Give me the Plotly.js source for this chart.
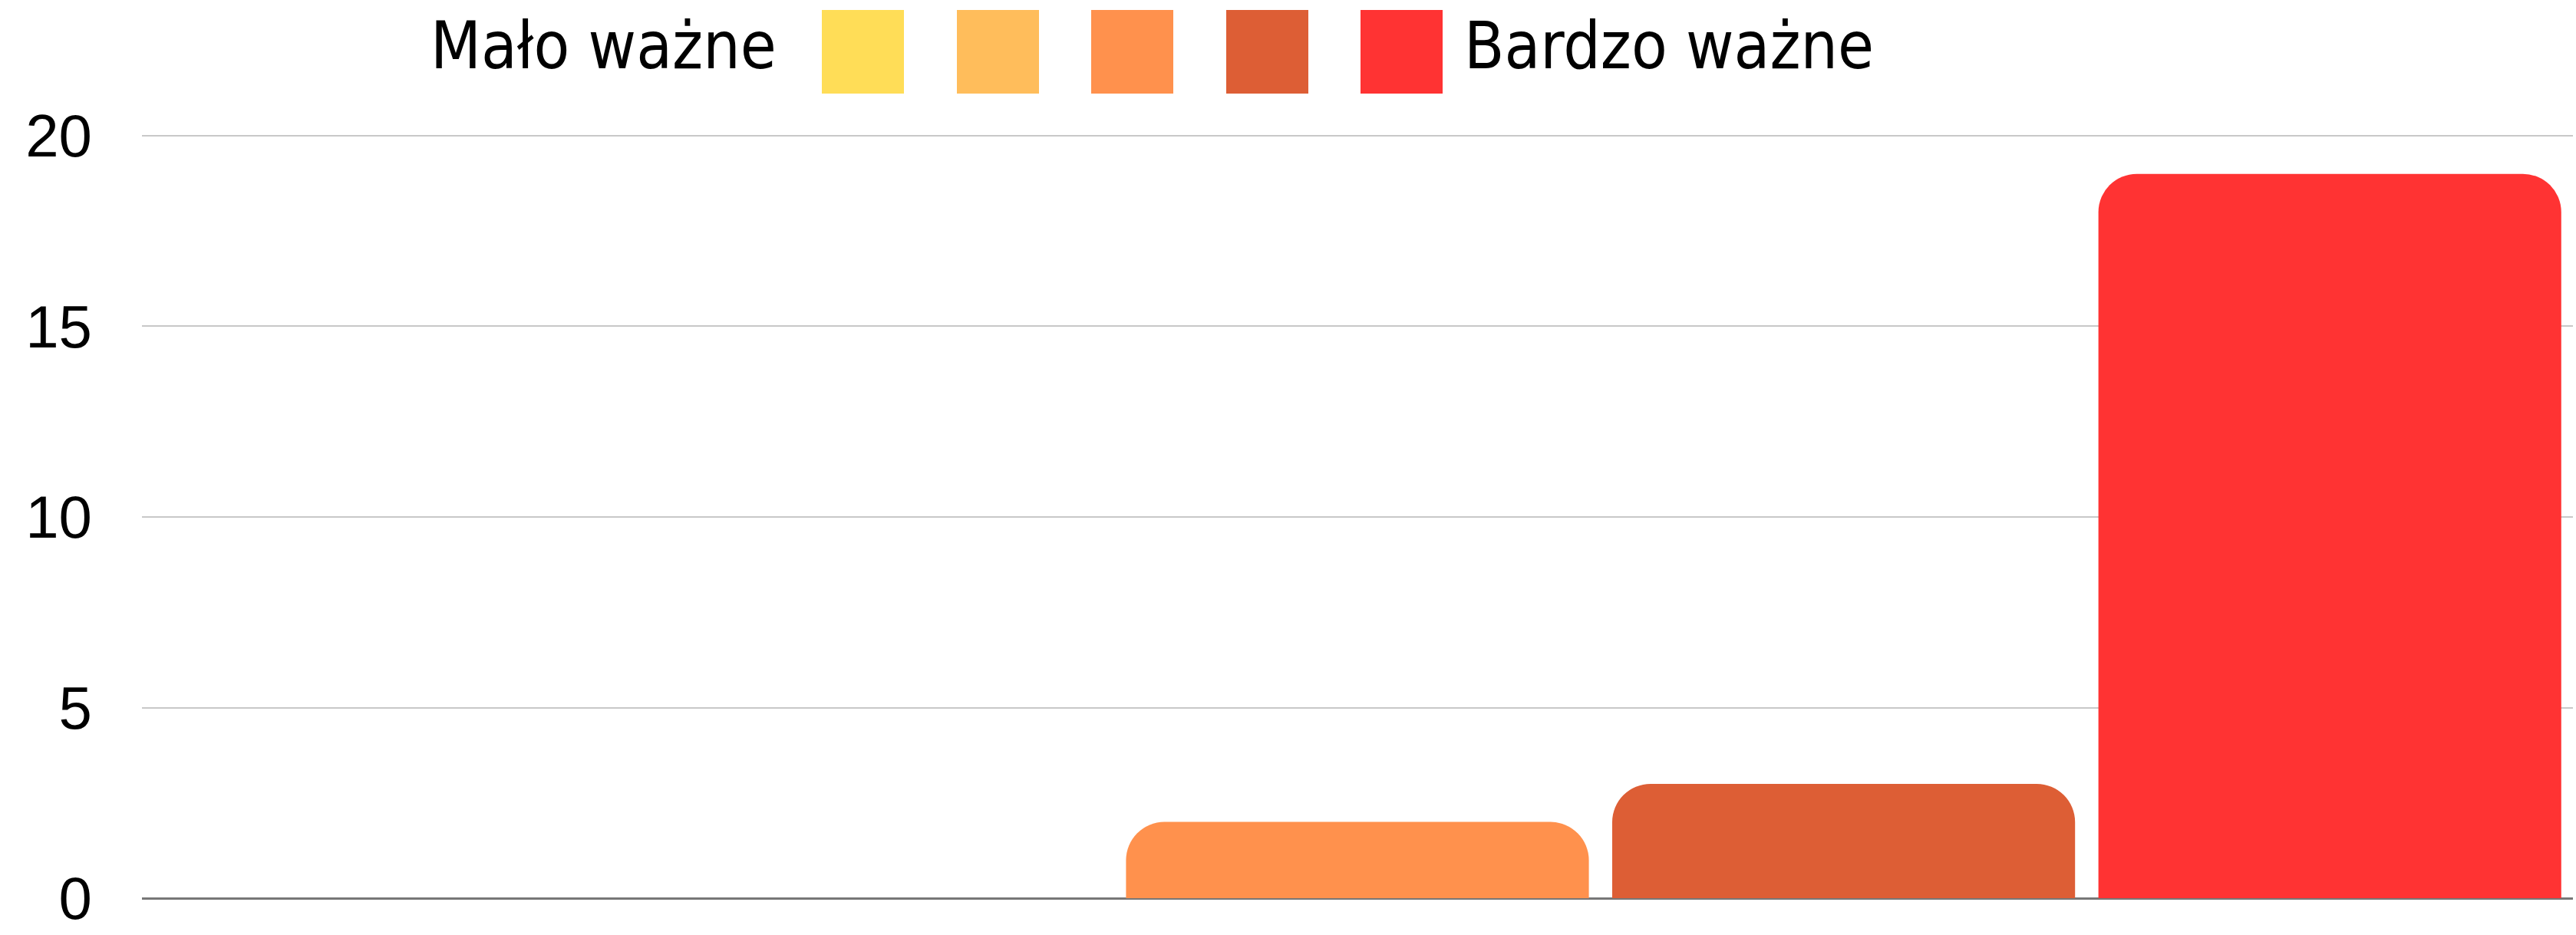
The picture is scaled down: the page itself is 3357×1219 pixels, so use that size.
<!DOCTYPE html>
<html>
<head>
<meta charset="utf-8">
<script src="https://cdn.plot.ly/plotly-3.0.1.min.js"></script>
<style>html,body{margin:0;padding:0;background:#fff;}#chart{width:3357px;height:1219px;}</style>
</head>
<body>
<div id="chart"></div>
<script>
// Data
const categories = ["1", "2", "3", "4", "5"];
const values = [0, 0, 2, 3, 19];
const colors = ["#FFDD57", "#FFBD5B", "#FF914D", "#DD5E35", "#FF3333"];
const legendLow = "Mało ważne";
const legendHigh = "Bardzo ważne";
const yTicks = [0, 5, 10, 15, 20];

const W = 3357, H = 1219;
const yMax = 20.06;
const M = {l: 185, r: 4, t: 174, b: 48};
const plotW = W - M.l - M.r, plotH = H - M.t - M.b;
const px = x => (x - M.l) / plotW;
const py = y => (H - M.b - y) / plotH;

const trace = {
  type: "bar",
  x: categories,
  y: values,
  marker: {color: colors, cornerradius: 50},
  hoverinfo: "skip",
  showlegend: false
};

const swX = [1071, 1247, 1422, 1598, 1773];
const swW = 107;
const shapes = colors.map((c, i) => ({
  type: "rect", xref: "paper", yref: "paper",
  x0: px(swX[i]), x1: px(swX[i] + swW), y0: py(122), y1: py(13),
  fillcolor: c, line: {width: 0}
}));

const legendFont = {family: "DejaVu Sans Condensed, Liberation Sans Narrow, Roboto Condensed, DejaVu Sans, sans-serif", size: 85, color: "#000"};
const annotations = [
  {xref: "paper", yref: "paper", x: px(1014), y: py(60), xanchor: "right", yanchor: "middle",
   text: legendLow, showarrow: false, font: legendFont},
  {xref: "paper", yref: "paper", x: px(1906), y: py(60), xanchor: "left", yanchor: "middle",
   text: legendHigh, showarrow: false, font: legendFont}
];

const layout = {
  width: W, height: H,
  margin: M,
  paper_bgcolor: "#fff", plot_bgcolor: "#fff",
  bargap: 0.048,
  showlegend: false,
  xaxis: {showticklabels: false, showgrid: false, zeroline: false, showline: false, ticks: ""},
  yaxis: {
    range: [0, yMax], tickvals: yTicks, ticktext: yTicks.map(String),
    showgrid: true, gridcolor: "#C8C8C8", gridwidth: 2,
    zeroline: true, zerolinecolor: "#777", zerolinewidth: 3,
    ticks: "", ticklabelstandoff: 64, ticklabeloverflow: "allow",
    tickfont: {family: "Liberation Sans, Arial, sans-serif", size: 78, color: "#000"}
  },
  shapes: shapes,
  annotations: annotations
};

Plotly.newPlot("chart", [trace], layout, {staticPlot: true, displayModeBar: false});
</script>
</body>
</html>
